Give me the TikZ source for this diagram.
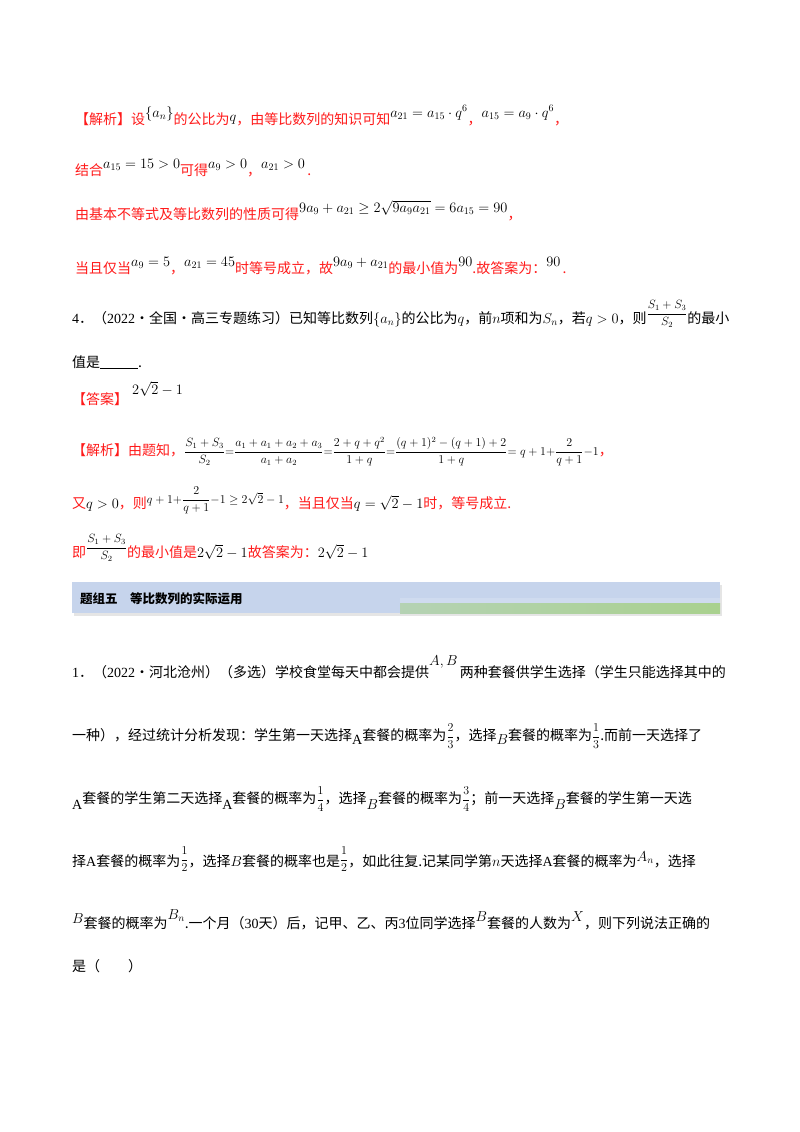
\documentclass[tikz,border=0pt]{standalone}
\usepackage{fontspec}
\setmainfont{Noto Sans CJK SC}
\newfontfamily\tnr{Liberation Serif}
\definecolor{rd}{HTML}{FF1A1A}
\definecolor{ban}{HTML}{C6D4EC}
\definecolor{grn}{HTML}{A9D18E}
\tikzset{ln/.style={anchor=base west,inner sep=0pt,font=\fontsize{14}{16}\selectfont},
 red/.style={text=rd}}
\newcommand{\up}[1]{\raisebox{7pt}{\fontsize{14}{16}\selectfont\textcolor{black}{$#1$}}}
\newcommand{\fr}[2]{{\fontsize{12}{14}\selectfont$\displaystyle\frac{#1}{#2}$}}
\begin{document}
\begin{tikzpicture}[x=1pt,y=-1pt]
\useasboundingbox (0,0) rectangle (800,1132);
\fill[white] (0,0) rectangle (800,1132);
% analysis 3
\node[ln,red] (l1) at (75,124) {【解析】设\up{\{a_n\}}的公比为\raisebox{3pt}{\fontsize{15}{16}\selectfont\textcolor{black}{$q$}}，由等比数列的知识可知\up{a_{21}=a_{15}\cdot q^6}，\up{a_{15}=a_9\cdot q^6}，};
\node[ln,red] (l2) at (75,175) {结合\up{a_{15}=15>0}可得\up{a_9>0}，\up{a_{21}>0}\,.};
\node[ln,red] (l3) at (75,219) {由基本不等式及等比数列的性质可得\up{9a_9+a_{21}\ge 2\sqrt{9a_9a_{21}}=6a_{15}=90}，};
\node[ln,red] (l4) at (75,273) {当且仅当\up{a_9=5}，\up{a_{21}=45}时等号成立，故\up{9a_9+a_{21}}的最小值为\up{90}.故答案为：\up{90}\,.};
% problem 4
\node[ln] (p4) at (72,323) {{\tnr 4}．（{\tnr 2022}·全国·高三专题练习）已知等比数列$\{a_n\}$的公比为$q$，前$n$项和为$S_n$，若$q>0$，则\raisebox{6pt}{\fr{S_1+S_3}{S_2}}的最小};
\node[ln] (p4b) at (72,367) {值是\underline{\hspace{38pt}}.};
\node[ln,red] (ans) at (72,404) {【答案】};
\node[ln] (ansv) at (132,394) {$2\sqrt2-1$};
\node[ln,red] (j1) at (72,455) {【解析】由题知，};
\node[ln] (j1m) at (184,455) {\fr{S_1+S_3}{S_2}{\fontsize{12}{14}\selectfont$=$}\fr{a_1+a_1+a_2+a_3}{a_1+a_2}{\fontsize{12}{14}\selectfont$=$}\fr{2+q+q^2}{1+q}{\fontsize{12}{14}\selectfont$=$}\fr{(q+1)^2-(q+1)+2}{1+q}{\fontsize{12}{14}\selectfont$=q+1+$}\fr{2}{q+1}{\fontsize{12}{14}\selectfont$-1$}\textcolor{rd}{，}};
\node[ln,red] (j2) at (72,508) {又\textcolor{black}{$q>0$}，则\raisebox{5pt}{\textcolor{black}{{\fontsize{12}{14}\selectfont$q+1+$}\fr{2}{q+1}{\fontsize{12}{14}\selectfont$-1\ge2\sqrt2-1$}}}，当且仅当\textcolor{black}{$q=\sqrt2-1$}时，等号成立.};
\node[ln,red] (j3) at (72,557) {即\raisebox{6pt}{\textcolor{black}{\fr{S_1+S_3}{S_2}}}的最小值是\textcolor{black}{$2\sqrt2-1$}故答案为：\textcolor{black}{$2\sqrt2-1$}};
% banner
\fill[black!10] (74,585) rectangle (722,616);
\fill[ban] (72,582) rectangle (720,613);
\fill[ban!85!white] (400,598) rectangle (720,613);
\fill[left color=grn!60!ban, right color=grn] (400,603) rectangle (720,613);
\node[ln] (ban) at (80,603) {\bfseries\fontsize{12.5}{14}\selectfont 题组五\quad 等比数列的实际运用};
% problem 1
\node[ln] (q1) at (72,677) {{\tnr 1}．（{\tnr 2022}·河北沧州）（多选）学校食堂每天中都会提供\raisebox{12pt}{$A,B$}\,两种套餐供学生选择（学生只能选择其中的};
\node[ln] (q2) at (72,740) {一种），经过统计分析发现：学生第一天选择\raisebox{-4pt}{\tnr A}套餐的概率为\fr23，选择\raisebox{-4pt}{$B$}套餐的概率为\fr13.而前一天选择了};
\node[ln] (q3) at (72,803) {\raisebox{-6pt}{\tnr A}套餐的学生第二天选择\raisebox{-6pt}{\tnr A}套餐的概率为\fr14，选择\raisebox{-6pt}{$B$}套餐的概率为\fr34；前一天选择\raisebox{-6pt}{$B$}套餐的学生第一天选};
\node[ln] (q4) at (72,866) {择{\tnr A}套餐的概率为\raisebox{3pt}{\fr12}，选择$B$套餐的概率也是\raisebox{3pt}{\fr12}，如此往复.记某同学第$n$天选择{\tnr A}套餐的概率为\raisebox{5pt}{$A_n$}，选择};
\node[ln] (q5) at (72,928) {\raisebox{5pt}{$B$}套餐的概率为\raisebox{9pt}{$B_n$}.一个月（{\tnr 30}天）后，记甲、乙、丙{\tnr 3}位同学选择\raisebox{7pt}{$B$}套餐的人数为\raisebox{7pt}{$X$}，则下列说法正确的};
\node[ln] (q6) at (72,971) {是（\qquad）};
\end{tikzpicture}
\end{document}
